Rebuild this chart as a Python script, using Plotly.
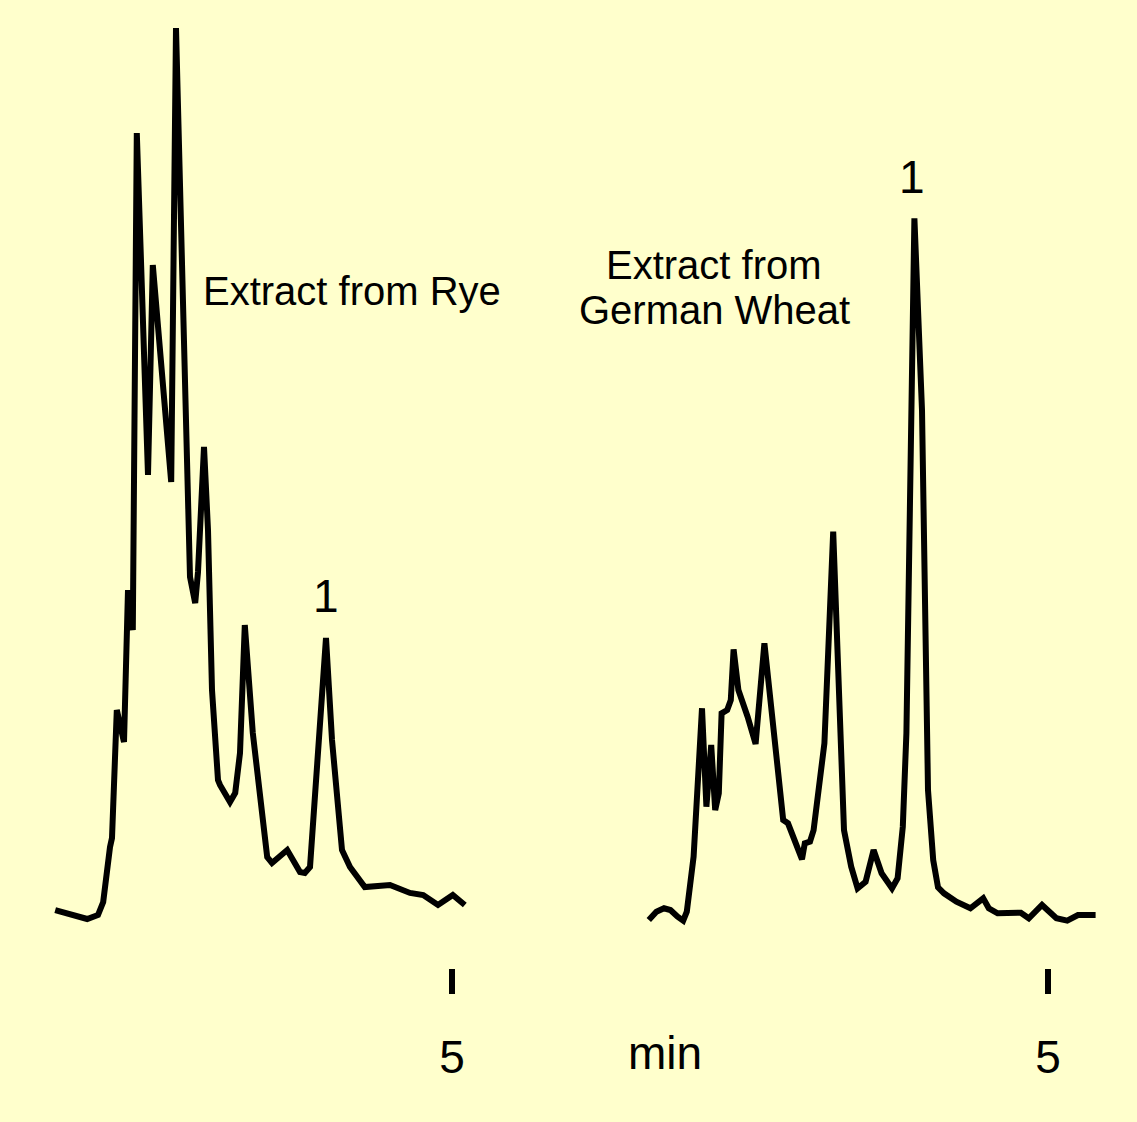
import plotly.graph_objects as go

# Rye extract chromatogram (time in min, detector response in arbitrary units)
rye_time = [0.04, 0.44, 0.575, 0.64, 0.725, 0.75, 0.81, 0.90, 0.95, 1.01, 1.06, 1.20, 1.26,
            1.49, 1.55, 1.70, 1.725, 1.79, 1.825, 1.90, 1.95, 2.00, 2.075, 2.10, 2.225, 2.29,
            2.35, 2.41, 2.51, 2.69, 2.75, 2.94, 3.10, 3.16, 3.225, 3.425, 3.50, 3.625, 3.725,
            3.91, 4.225, 4.475, 4.64, 4.825, 5.01, 5.16]
rye_signal = [0.56, -0.45, 0.0, 1.47, 7.68, 8.70, 23.16, 19.55, 36.72, 32.20, 88.36, 49.72, 73.45,
              48.93, 100.23, 40.68, 38.19, 35.25, 38.76, 52.88, 43.50, 25.42, 15.25, 14.69, 12.77, 13.79,
              18.31, 32.77, 20.56, 6.55, 5.88, 7.34, 4.86, 4.75, 5.42, 31.30, 19.77, 7.34, 5.42,
              3.16, 3.39, 2.49, 2.26, 1.13, 2.26, 1.13]

# German wheat extract chromatogram
wheat_time = [0.01, 0.105, 0.20, 0.28, 0.37, 0.44, 0.485, 0.57, 0.675, 0.73, 0.79, 0.84, 0.885,
              0.92, 0.99, 1.035, 1.07, 1.13, 1.245, 1.345, 1.455, 1.58, 1.69, 1.75, 1.825, 1.925,
              1.96, 2.025, 2.07, 2.205, 2.315, 2.45, 2.54, 2.62, 2.72, 2.82, 2.92, 3.05, 3.12,
              3.185, 3.23, 3.33, 3.425, 3.50, 3.565, 3.625, 3.70, 3.855, 4.03, 4.19, 4.26, 4.37,
              4.66, 4.76, 4.925, 5.105, 5.24, 5.375, 5.595]
wheat_signal = [-0.56, 0.37, 0.76, 0.56, -0.19, -0.64, 0.37, 6.59, 23.36, 12.24, 19.21, 11.86, 13.75,
                22.79, 23.16, 24.29, 30.02, 25.42, 22.41, 19.32, 30.70, 19.77, 10.73, 10.36, 8.47, 6.29,
                8.10, 8.28, 9.60, 19.40, 43.31, 9.60, 5.46, 3.02, 3.76, 7.34, 4.71, 3.02, 4.15,
                9.98, 20.53, 78.72, 57.06, 14.12, 6.21, 3.13, 2.45, 1.50, 0.76, 1.89, 0.76, 0.19,
                0.26, -0.37, 1.13, -0.37, -0.64, 0.0, 0.0]

tick_values = [5]
tick_labels = ["5"]

BG = "#FFFFCC"
FONT = "Liberation Sans, Arial, sans-serif"

fig = go.Figure()
fig.add_trace(go.Scatter(x=rye_time, y=rye_signal, mode="lines",
                         line=dict(color="black", width=6), xaxis="x", yaxis="y",
                         showlegend=False, hoverinfo="skip"))
fig.add_trace(go.Scatter(x=wheat_time, y=wheat_signal, mode="lines",
                         line=dict(color="black", width=6), xaxis="x2", yaxis="y",
                         showlegend=False, hoverinfo="skip"))

xcommon = dict(showgrid=False, zeroline=False, showline=False, ticks="outside",
               ticklen=25, tickwidth=6, tickcolor="black",
               tickvals=tick_values, ticktext=tick_labels,
               tickfont=dict(family=FONT, size=46, color="black"),
               anchor="free", position=1 - 968 / 1122, fixedrange=True,
               ticklabelstandoff=24)

fig.update_layout(
    width=1137, height=1122,
    margin=dict(l=0, r=0, t=0, b=0),
    paper_bgcolor=BG, plot_bgcolor=BG,
    xaxis=dict(domain=[0, 0.5], range=[-0.65, 6.45625], **xcommon),
    xaxis2=dict(domain=[0.5, 1], range=[-0.99375, 6.1125], **xcommon),
    yaxis=dict(domain=[0, 1], range=[-23.39, 103.39], visible=False, fixedrange=True),
    font=dict(family=FONT, color="black"),
)

ann = dict(showarrow=False, font=dict(family=FONT, size=40, color="black"),
           xanchor="center", yanchor="middle")
fig.add_annotation(x=3.756, y=70.5, xref="x", yref="y", text="Extract from Rye", **ann)
fig.add_annotation(x=0.831, y=73.45, xref="x2", yref="y", text="Extract from", **ann)
fig.add_annotation(x=0.831, y=68.36, xref="x2", yref="y", text="German Wheat", **ann)

ann_big = dict(ann, font=dict(family=FONT, size=46, color="black"))
fig.add_annotation(x=3.425, y=36.05, xref="x", yref="y", text="1", **ann_big)
fig.add_annotation(x=3.30, y=83.39, xref="x2", yref="y", text="1", **ann_big)
fig.add_annotation(x=0.2125, y=-15.6, xref="x2", yref="y", text="min", **ann_big)

fig.write_html(
    "out.html",
    config={"displayModeBar": False},
    post_script="document.body.style.margin='0';document.body.style.background='" + BG + "';",
)
